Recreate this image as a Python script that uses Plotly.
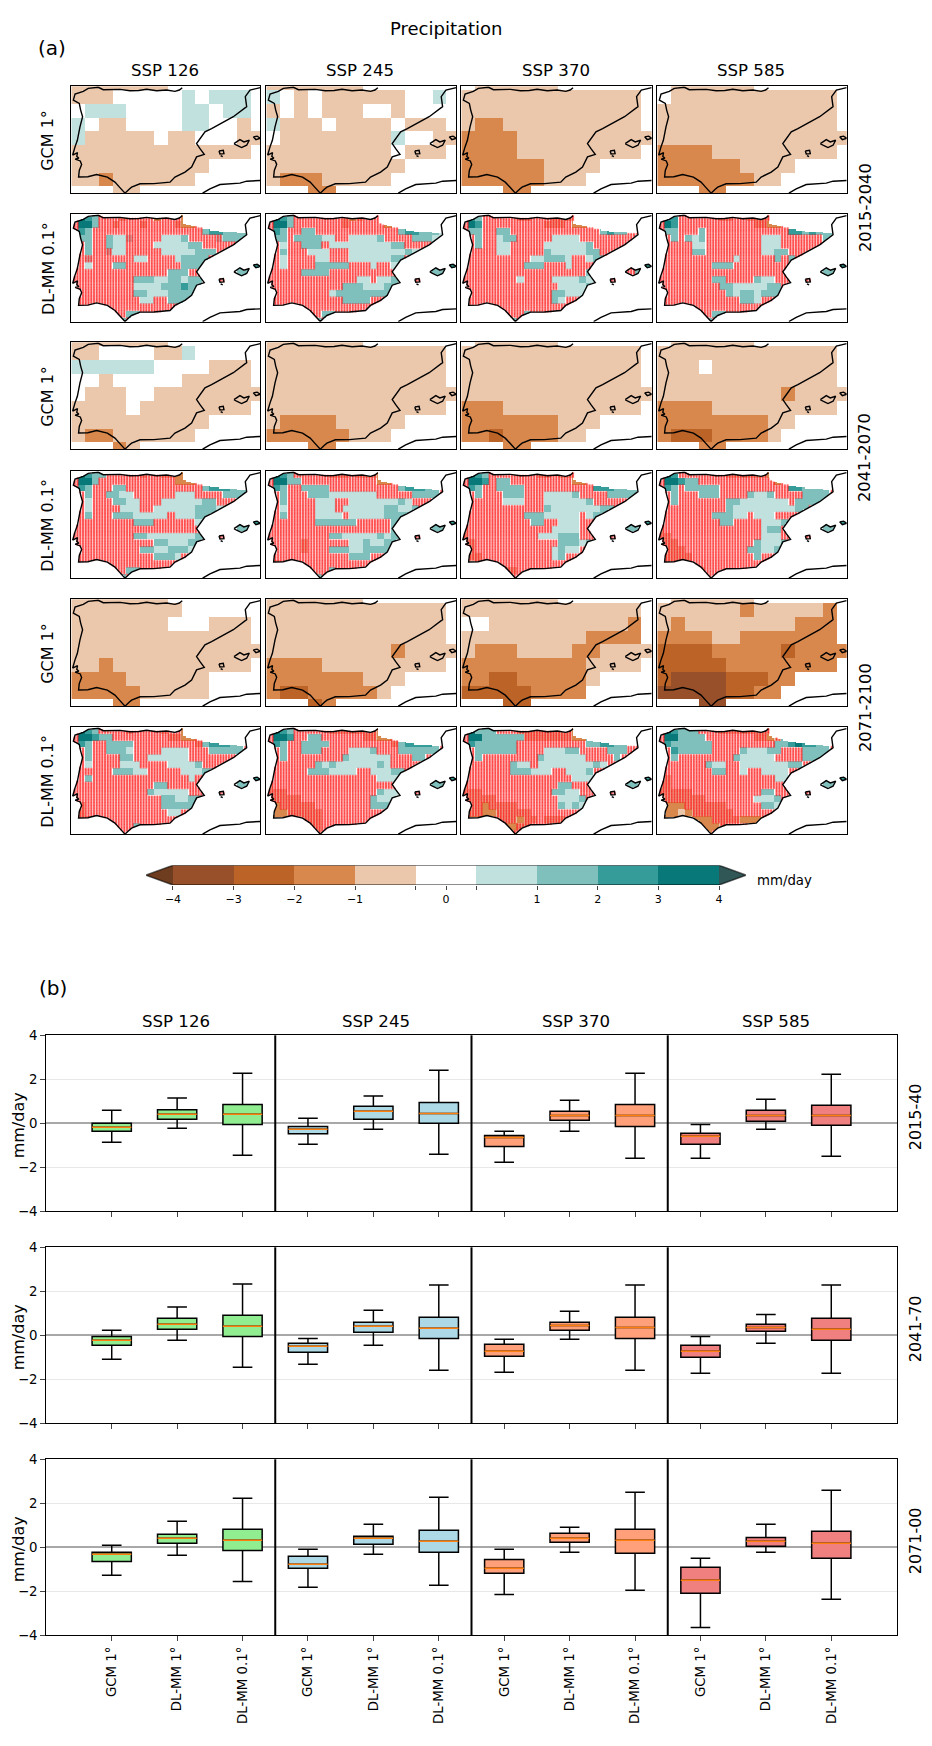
import numpy as np
import plotly.graph_objects as go

W, H = 932, 1746

ssp_labels = ["SSP 126", "SSP 245", "SSP 370", "SSP 585"]
map_row_labels = ["GCM 1°", "DL-MM 0.1°"]
period_labels = ["2015-2040", "2041-2070", "2071-2100"]
box_period_labels = ["2015-40", "2041-70", "2071-00"]
box_ticks = ["GCM 1°", "DL-MM 1°", "DL-MM 0.1°"] * 4

# colour bins, brown to teal
bin_colors = ["#975029", "#bc6428", "#d9884d", "#ebc7ac", "#ffffff",
              "#c1e1df", "#7fbfbc", "#359c99", "#087878"]
class_bin = {"m": 0, "n": 1, "o": 2, "p": 3, "q": 3, "r": 4, "a": 5, "e": 5, "b": 6, "c": 7, "d": 8}
stippled = "rqe"

# coastline, lon / lat
coast_lon = [-1.44, -1.65, -1.97, -2.58, -3.30, -4.03, -4.6, -5.24, -5.96, -7.18, -7.54, -8.27, -8.63, -9.23,
             -9.35, -8.92, -8.82, -8.68, -8.87, -9.06, -9.23, -9.40, -9.40, -9.05, -9.1, -8.95, -9.22, -8.85,
             -8.75, -8.92, -8.97, -8.3, -7.66, -6.88, -6.33, -6.0, -5.60, -5.3, -5.12, -4.51, -3.5, -2.33,
             -1.97, -1.24, -0.76, -0.40, 0.16, -0.15, -0.40, 0.21, 0.69, 2.27, 3.24, 3.14, 3.48, 4.23]
coast_lat = [43.67, 43.50, 43.40, 43.50, 43.45, 43.55, 43.47, 43.45, 43.55, 43.52, 43.70, 43.62, 43.40, 43.21,
             42.77, 42.53, 42.04, 41.56, 40.83, 39.85, 39.37, 38.90, 38.78, 38.95, 38.68, 38.55, 38.48, 38.35,
             38.10, 37.66, 37.18, 37.20, 37.36, 37.18, 36.81, 36.45, 36.01, 36.30, 36.45, 36.69, 36.70, 36.81,
             37.18, 37.54, 37.91, 38.64, 38.83, 39.24, 39.61, 40.46, 40.70, 41.56, 42.29, 43.02, 43.50, 43.67]
# number of coast points up to Cap de Creus, the rest is France
coast_spain = 53
pyrenees_lon = [3.1, 1.5, 0.0, -1.34, -1.44]
pyrenees_lat = [42.42, 42.5, 42.75, 43.09, 43.4]
mallorca_lon = [2.32, 2.75, 3.04, 3.43, 3.24, 2.87, 2.51, 2.32]
mallorca_lat = [39.61, 39.90, 39.73, 39.85, 39.49, 39.32, 39.49, 39.61]
menorca_lon = [3.72, 4.0, 4.23, 3.91, 3.72]
menorca_lat = [40.1, 40.15, 40.0, 39.9, 40.1]
ibiza_lon = [1.23, 1.54, 1.59, 1.3, 1.23]
ibiza_lat = [39.07, 39.12, 38.88, 38.85, 39.07]
formentera_lon = [1.35, 1.5]
formentera_lat = [38.74, 38.66]
africa_lon = [0.04, 0.57, 1.3, 2.75, 3.24, 4.23]
africa_lat = [36.01, 36.32, 36.64, 36.74, 36.88, 36.93]

# GCM 1 deg cells, one string per latitude band, north to south
gcm_lon = list(range(-9, 5))
gcm_lat = [44, 43, 42, 41, 40, 39, 38, 37, 36]

gcm_2015_126 = ["ppppppp.......", "ppp.....a.aaa.", ".aaa....aa.aa.", "a.pp....aa..p.", "appppp.pp...pp",
                "ppppppppppppp.", "pppppppppp....", "ppopppppp.....", "...pp........."]
gcm_2015_245 = ["ppppppp.......", "a.p.pppppp..a.", "p.p.ppp..p....", "appp.pppp.ppp.", ".ppppppppa..pp",
                "ppppppppp.ppp.", "pppppppppp....", "poooppppp.....", "...oo........."]
gcm_2015_370 = [".pppppp.......", "ppppppppppppp.", "ppppppppppppp.", "poopppppppppp.", "oooopppppppppp",
                "ooooppppppppp.", "oooooopppp....", "ooooooppp.....", "...oo........."]
gcm_2015_585 = [".pppppp.......", ".pppppppppppp.", "ppppppppppppp.", "ppppppppppppp.", "pppppppppppppp",
                "ooooppppppppp.", "oooooopppp....", "ooooooopp.....", "...oo........."]

gcm_2041_126 = ["ppppppp.......", "pp....ppa.....", "aaaaaa....ppp.", "..p.....ppppp.", ".ppp..pppppppp",
                "pppp.pppppppp.", "pppppppppp....", "poopppppp.....", "...op........."]
gcm_2041_245 = ["ppppppp.......", "ppppppppppppp.", "ppppppppppppp.", "ppppppppppppp.", "pppppppppppppp",
                "ppppppppppppp.", "pooooppppp....", "ooooooppp.....", "...oo........."]
gcm_2041_370 = [".pppppp.......", "ppppppppppppp.", "ppppppppppppp.", "ppppppppppppp.", "pppppppppppppp",
                "oooppppppppppp"[:13] + ".", "oooooooppp....", "oonoooopp.....", "...oo........."]
gcm_2041_585 = [".pppppp.......", "ppppppppppppp.", "ppp.ppppppppp.", "ppppppppppppp.", "pppppppppopppp",
                "ooooppppppppp.", "oooooooopp....", "onnnoooop.....", "...oo........."]

gcm_2071_126 = ["ppppppp.......", "pppppppp......", "ppppppp...ppp.", "ppppppppppppp.", "pppppppppppppp",
                "ppopppppppppp.", "oooopppppp....", "oooooppppp....", "...oo........."]
gcm_2071_245 = ["ppppppp.......", "ppppppppppppp.", "ppppppppppppp.", "ppppppppppppp.", "pppppppppopppp",
                "ooooppppppppp.", "oooooooppp....", "onnooooop.....", "...no........."]
gcm_2071_370 = ["ppppppp.......", "ppppppppppppp.", "..ppppppppppo.", "pppppppppoooo.", "poooppppoopppp",
                "ooooooooopppp.", "oonnooooop....", "nnnnnoooo.....", "...nn........."]
gcm_2071_585 = [".pppppp.......", "ppppppopppppo.", "poppppppppooo.", "ooooppooooooo.", "nnnnooooonoooo",
                "nnnnnoooooooo.", "nmmmmnnnoo....", "mmmmmnnoo.....", "...mm........."]

# DL-MM 0.1 deg classes read on a 0.5 deg raster; r/q carry the red stippling
dl_2015_126 = [".dcbrrrqrrrrorrro", ".ddbrrqrrrqrrrrqoo", ".cbrrrrrrrrrrrrrrrrbccbbb", ".bbrrbaaerrrraaabrrrrebbbb",
               "..brrbaarrrraaaaabbrrrrr", "..brreaarrrrraaaaabbbrr", "..errrrrraarrrrabbbbrr",
               "..arrrbbrrrrrrrrbbbb......cc", "rrrrrrrrrrrrrrbbbrr.....bbb", "rrrrrrrrrbbbaabbabb...r",
               "rrrrrrrrraaaabbbcbb", ".rrrrrrrrbbaaabbbbb", ".rrrrrrrrraarrbbb", ".rrrrrrrrrrrrrr",
               "......rrbb", ".......b"]
dl_2015_245 = [".dcbrrrrrrrqoqrrrro", ".ddbrrrrrrrqrrrrroo", ".cbrrbbrrrrrrrrrrrrbccbbb", ".bbrbbbbaarraaaabrrrrbbbaa",
               "..arrbbbraaaaaaaaabbrrrr", "..brrraaarrraaaaaaaabaa", "..arrrraarrraaaaaabbrr",
               "..arrrrbbbbbrrrarrabb.....cc", "rrrrrbbbbrrrrrrrrrr.....bbb", "rrrrrrrrrrrrraaraab...r",
               "rrrrrrrrrrrbbbaaabb", ".rrrrrrrrabbbbbbbbb", ".rrrrrrrrrrbbbbrr", ".rrrrrrrrrrrrrr",
               "......rrbb", ".......b"]
dl_2015_370 = [".cbrrrrrqqrrrqqqqro", ".dcrrrrrrrrrqqqrooo", ".bbrrbbrrrrrrrrrrrrrbcbbrr", "..brrabbrrrrraaaarrrrrrrrb",
               "..brraarrrrraaaaaabrrrrr", "..rrraarrrrrbaaaaabbrr", "..rrrrrrrraabbbarrabb",
               "..rrrrrrrbbbrrrarrrr......cc", "rrrrrrrrrrrrrrrrrrb.....rbb", "rrrrrrrrarrrraaaabaa..r",
               "rrrrrrrrrrrrrraaaabb", ".rrrrrrrrrrrrbbaaab", ".rrrrrrrrrrrrbarr", ".rrrrrrrrrrrrrr",
               "......rrrb", ".......b"]
dl_2015_585 = [".ccrrrrrrqqrrqqqqro", ".dcrrrrrrrrrrrqqoo", ".bbrrrbrrrrrrrrrrrrccbcb", "..brbabrrrrrrrraaarrrrrrbb",
               "..rrraarrrrrrrraaarrrrrrr", "..rrrbbrrrrrrrraabbrrrr", "..rrrrrrrrrarrrrrbrb",
               "..rrrrrrbbbrrrrrrrrr......cc", "rrrrrrrrrrrrrrrrrrr.....bbb", "rrrrrrrrbbrrrrbaarrr..r",
               "rrrrrrrrrbbaaaaabbrr", ".rrrrrrrrrbabbabbb", ".rrrrrrrrrrrbbarr", ".rrrrrrrrrrrrrr",
               "......rrbb", ".......b"]

dl_2041_126 = [".dcbbrrrrrqrrqqoooo", ".ddbrrrrrrrrrrrooo", ".cbrrrbbrrrrrrrrrrrbcccbb", "..brrbbaarrrrrraaarrrrbbbb",
               "..arrrbbaarrraaaaaabbrrrr", "..arrrraaarraaaaaabbbaa", "..brrrbbbaaaaaraaabbb",
               "..rrrrrrrbbbrrrrrrarr.....cc", "rrrrrrrrrrrrrrrrrrr.....bbb", "rrrrrrrrrbbaaaaaaab...r",
               "rrrrrrrrrrrrbbaaabbb", ".rrrrrrrrrbbaabbbab", ".rrrrrrrrrrrbbbarr", ".rrrrrrrrrrrrrr",
               "......rrbb", ".......b"]
dl_2041_245 = [".dcbrrrrrqqqrqqqooo", ".ddbbrrrrrrrrrrroo", ".cbrrbbbbrrrrrrrrrrbcccbb", "..brrrbbbaaaaaaarrrrrbbbb",
               "..brrrraaarraaaaaaabarrr", "..arrrraaaraaaaaabbaab", "..brrrraaaaraaaaabbbb",
               "..rrrrrbbbbbbrrrrrbab.....cc", "rrrrrrrrrrrrrrrrrrb.....bbb", "rrrrrrrrrbbaaaaabab...r",
               "rrrrrqrrrrrraabaabbb", ".rrrrqrrrbbbaabbbbb", ".rrrrrrrrrrrbbbrr", ".qrrrrrrrrrrrrr",
               "......rrrb", ".......b"]
dl_2041_370 = [".dcbrrrrrrrqqrqqqoo", ".ddcrbbrrrrrrrrroo", ".cbrrbbbbrrrrrrrrrrcccbbb", "..brrrbbbrrraaaabrrrrbbbbb",
               "..rrrraaarrraaaaaabrrrrr", "..rrrrrrrrrrbaaaaaaabb", "..rrrrrrrbbbaaaaarabb",
               "..rrrrrrrrbbrraaarrrr.....cc", "qrrrrrrrrrrrraaaarr.....bbb", "qrrrrrrrrrraaabbbrr...r",
               "qqrrrrrrrrrrrrbbbab", ".qrrrrrrrrrrrabaar", ".qqrrrrrrrrrrabrr", ".pqqqrrrrrrrrrr",
               "......qqrr", ".......r"]
dl_2041_585 = [".dcrrrrrrrqqqqqqoo", ".ddcbbrrrrrrrrrrro", ".cbrbbbbbrrrrrrrrrrccbbbb", "..brrrbbbrrrrbaabrrrrbbbb",
               "..brrrrrrrbbaaaaaaarbbbb", "..rrrrrrrrbaaaaaaaaabb", "..rrrrrrbbbaaraaarrrr",
               "..rrrrrrrbbrrrraaabr......cc", "qrrrrrrrrrrrrrrabbr.....bbb", "qqrrrrrrrrrrrrraaarr..r",
               "qqqrrrrrrrrrrrbaaabb", ".qqqrrrrrrrrrbbaabb", ".qqqqrrrrrrrrrbrr", ".qqqqrrrrrrrrrr",
               "......qrrr", ".......r"]

dl_2071_126 = [".dcbrrrrqrrrrqrro", ".ddcbbrrrrrrrrqqoo", ".cbrrbbbbrrrrrrrrrqbcccbb", "..brrbbbarrrraaaarrrbbbbb",
               "..brrrrbbrraaaaaarrrrr", "..arrrraaarrrraaaabrrr", "..rrrrbbbaarrrrraaabb",
               "..brrrrrrrrrrrrrrarr......cc", "rrrrrrrrrrrrbbrrrrr.....bbb", "rrrrrrrrrrrbaaaaarr...r",
               "qrrrrrrrrrrrrbbaabbb", ".qrrrrrrrrrrrbbbbbb", ".qrrrrrrrrrrrraarr", ".qqrrrrrrrrrrrr",
               "......rrrb", ".......r"]
dl_2071_245 = [".dcbrrrrrqqqqqqqoo", ".ddcrrbbrrrrrrqqoo", ".cbrrbbbbrrrrrrrrrqbccccb", "..brrbbbrrrraaabrrrbbbbbb",
               "..brrrrrrrrbaaaaaarrrbb", "..rrrrrbabaaaaaabarrr", "..rrrrbbbaaaarraaabb",
               "..rrrrrrrrrrrrrraaar......cc", "qrrrrrrrrrrrrrrrrrr.....bbb", "qqqrrrrrrrrrrrrrbaar..r",
               "qqqqqrrrrrrrrrrbaaabr", ".oqqqqqrrrrrrrrbbbb", ".ooqqqqqrrrrrrrrr", ".ooopqqqrrrrrrr",
               "......qqrr", ".......q"]
dl_2071_370 = [".dbbbrrrqqqqqqqqooo", ".ddbbbbbbqqqqqqqoo", ".cbbbbbbrrrrrrrrrrbbccb", "..bbbbbbrrrraaabbrrrrbbb",
               "..brrrrrrrrbaaaaaarrrrb", "..rrrrrbaaraaaaaaaaba", "..rrrrrbbbaaarraaab",
               "..rrrrrrrrrrrrrraaarr.....cc", "qrrrrrrrrrrrrrbbrrr.....bbb", "qqqrrrrrrrrrrbbaarr...r",
               "qqqqqrrrrrrrrraaabrr", ".qqoqqqqrrrrrrbabar", ".qqooqqqqqrrrrrrr", ".oooqqqqoqqrqqq",
               "......ooqq", ".......q"]
dl_2071_585 = [".dcbbbrrrqqqqqqqqoo", ".ddbbbbrrrrrrrqqoq", ".cbbbbbbrrrrrrrrrbbcdcc", "..cbbbbbrrrrbaaabbrrrbbbb",
               "..brrrrrrrrbaaaaarrrrbbbb", "..rrrrrbaarraaaaaaabb", "..rrrrrrbbrrarraaaarr",
               "..rrrrrrrrrrrrrrraar......cc", "qqrrrrrrrrrrrrrrrrr.....bbb", "qqqqqrrrrrrrrrrbbrr...r",
               "oqqqqqqrrrrrrraaabrr", ".oooqqqqqqrrrrrbbar", ".oopoqqqqqqrrrrrr", ".ooppoooqqqqooo",
               "......oooq", ".......o"]

gcm_panels = [[gcm_2015_126, gcm_2015_245, gcm_2015_370, gcm_2015_585],
              [gcm_2041_126, gcm_2041_245, gcm_2041_370, gcm_2041_585],
              [gcm_2071_126, gcm_2071_245, gcm_2071_370, gcm_2071_585]]
dl_panels = [[dl_2015_126, dl_2015_245, dl_2015_370, dl_2015_585],
             [dl_2041_126, dl_2041_245, dl_2041_370, dl_2041_585],
             [dl_2071_126, dl_2071_245, dl_2071_370, dl_2071_585]]

# boxplot stats, 4 scenarios x 3 products in a row
box_colors = ["#90ee90", "#add8e6", "#ffa07a", "#f08080"]
box_x = list(range(1, 13))
hi_2015 = [0.59, 1.15, 2.27, 0.23, 1.24, 2.41, -0.36, 1.05, 2.27, -0.05, 1.09, 2.23]
q3_2015 = [0.0, 0.62, 0.86, -0.14, 0.77, 0.95, -0.55, 0.55, 0.86, -0.45, 0.59, 0.82]
med_2015 = [-0.18, 0.41, 0.41, -0.27, 0.55, 0.45, -0.64, 0.35, 0.36, -0.59, 0.36, 0.36]
q1_2015 = [-0.36, 0.18, -0.05, -0.47, 0.18, 0.0, -1.05, 0.14, -0.14, -0.95, 0.09, -0.09]
lo_2015 = [-0.86, -0.23, -1.45, -0.95, -0.27, -1.41, -1.77, -0.36, -1.59, -1.59, -0.27, -1.5]

hi_2041 = [0.23, 1.29, 2.33, -0.14, 1.14, 2.29, -0.18, 1.09, 2.29, -0.05, 0.95, 2.29]
q3_2041 = [-0.05, 0.77, 0.91, -0.36, 0.59, 0.82, -0.41, 0.59, 0.82, -0.45, 0.5, 0.77]
med_2041 = [-0.23, 0.5, 0.41, -0.5, 0.41, 0.32, -0.73, 0.45, 0.36, -0.73, 0.36, 0.27]
q1_2041 = [-0.45, 0.27, -0.05, -0.77, 0.14, -0.14, -0.95, 0.23, -0.14, -1.0, 0.18, -0.23]
lo_2041 = [-1.09, -0.23, -1.45, -1.32, -0.45, -1.59, -1.68, -0.18, -1.59, -1.73, -0.36, -1.73]

hi_2071 = [0.09, 1.18, 2.23, -0.09, 1.05, 2.27, -0.09, 0.91, 2.5, -0.5, 1.05, 2.59]
q3_2071 = [-0.23, 0.59, 0.82, -0.41, 0.5, 0.77, -0.55, 0.64, 0.82, -0.91, 0.45, 0.73]
med_2071 = [-0.32, 0.41, 0.32, -0.77, 0.41, 0.27, -0.95, 0.41, 0.32, -1.5, 0.27, 0.18]
q1_2071 = [-0.64, 0.18, -0.14, -0.95, 0.14, -0.23, -1.18, 0.23, -0.27, -2.09, 0.05, -0.5]
lo_2071 = [-1.27, -0.36, -1.55, -1.82, -0.32, -1.73, -2.14, -0.23, -1.95, -3.64, -0.23, -2.36]

box_rows = [(hi_2015, q3_2015, med_2015, q1_2015, lo_2015),
            (hi_2041, q3_2041, med_2041, q1_2041, lo_2041),
            (hi_2071, q3_2071, med_2071, q1_2071, lo_2071)]
separators = [3.5, 6.5, 9.5]

# colorbar
cbar_tick_pos = [0, 1, 2, 3, 4, 4.5, 5, 6, 7, 8, 9]
cbar_tick_text = ["\u22124", "\u22123", "\u22122", "\u22121", "", "0", "", "1", "2", "3", "4"]
cbar_left_color = "#6e3c1e"
cbar_right_color = "#315656"

# layout in pixels
map_cols = [(71.3, 260.3), (266.3, 456.3), (461.3, 651.7), (657.3, 846.7)]
map_rows = [(86.3, 193.3), (214.3, 321.7), (342.3, 449.3), (471.3, 578.3), (599.3, 706.3), (727.3, 834.3)]
box_rows_px = [(1035.3, 1211.3), (1247.3, 1423.3), (1459.3, 1635.3)]
lon_range = [-9.5, 4.23]
lat_range = [36.0, 43.77]


def xdom(a, b):
    return [a / W, b / W]


def ydom(top, bottom):
    return [1 - bottom / H, 1 - top / H]


def in_poly(px, py, lons, lats):
    inside = np.zeros(px.shape, bool)
    n = len(lons)
    for i in range(n):
        x1, y1, x2, y2 = lons[i], lats[i], lons[(i + 1) % n], lats[(i + 1) % n]
        if y1 == y2:
            continue
        cond = ((y1 > py) != (y2 > py)) & (px < (x2 - x1) * (py - y1) / (y2 - y1) + x1)
        inside ^= cond
    return inside


fine_lon = np.round(np.arange(-9.45, 4.3, 0.1), 2)
fine_lat = np.round(np.arange(43.75, 35.95, -0.1), 2)
LON, LAT = np.meshgrid(fine_lon, fine_lat)
land = in_poly(LON, LAT, coast_lon[:coast_spain] + pyrenees_lon, coast_lat[:coast_spain] + pyrenees_lat)
land |= in_poly(LON, LAT, mallorca_lon, mallorca_lat)
land |= in_poly(LON, LAT, menorca_lon, menorca_lat)
land |= in_poly(LON, LAT, ibiza_lon, ibiza_lat)

colorscale = []
for i, c in enumerate(bin_colors):
    colorscale += [[i / 9, c], [(i + 1) / 9, c]]


def gcm_z(rows):
    z = np.full((len(gcm_lat), len(gcm_lon)), np.nan)
    for j, row in enumerate(rows):
        for i, ch in enumerate(row.ljust(len(gcm_lon), ".")[:len(gcm_lon)]):
            if ch in class_bin:
                z[j, i] = class_bin[ch] + 0.5
    return z


def dl_fields(rows):
    z = np.full(LON.shape, np.nan)
    dots_x, dots_y = [], []
    for j in range(len(fine_lat)):
        r = min(int((43.77 - fine_lat[j]) / 0.5), len(rows) - 1)
        for i in range(len(fine_lon)):
            if not land[j, i]:
                continue
            c = int((fine_lon[i] + 9.5) / 0.5)
            ch = rows[r][c] if c < len(rows[r]) else "."
            if ch == "." and r + 1 < len(rows) and c < len(rows[r + 1]):
                ch = rows[r + 1][c]
            if ch == ".":
                ch = "r"
            z[j, i] = class_bin[ch] + 0.5
            if ch in stippled and i % 2 == 0:
                dots_x.append(fine_lon[i])
                dots_y.append(fine_lat[j])
    return z, dots_x, dots_y


fig = go.Figure()
layout = {}
annotations = []
shapes = []

coast_x = coast_lon + [None] + mallorca_lon + [None] + menorca_lon + [None] + ibiza_lon + [None] + formentera_lon + [None] + africa_lon
coast_y = coast_lat + [None] + mallorca_lat + [None] + menorca_lat + [None] + ibiza_lat + [None] + formentera_lat + [None] + africa_lat


def text(x, y, s, size, angle=0):
    annotations.append(dict(x=x / W, y=1 - y / H, xref="paper", yref="paper", text=s, showarrow=False,
                            font=dict(size=size), textangle=angle, xanchor="center", yanchor="middle"))


# maps
ax = 0
for row in range(6):
    for col in range(4):
        ax += 1
        xa, ya = f"x{ax}", f"y{ax}"
        layout[f"xaxis{ax}"] = dict(domain=xdom(*map_cols[col]), range=lon_range, anchor=ya, showticklabels=False,
                                    ticks="", showgrid=False, zeroline=False, showline=True, mirror=True,
                                    linecolor="black", linewidth=1.2)
        layout[f"yaxis{ax}"] = dict(domain=ydom(*map_rows[row]), range=lat_range, anchor=xa, showticklabels=False,
                                    ticks="", showgrid=False, zeroline=False, showline=True, mirror=True,
                                    linecolor="black", linewidth=1.2)
        if row % 2 == 0:
            fig.add_trace(go.Heatmap(x=gcm_lon, y=gcm_lat, z=gcm_z(gcm_panels[row // 2][col]), colorscale=colorscale,
                                     zmin=0, zmax=9, showscale=False, xaxis=xa, yaxis=ya, hoverinfo="skip"))
        else:
            z, dx, dy = dl_fields(dl_panels[row // 2][col])
            fig.add_trace(go.Heatmap(x=fine_lon, y=fine_lat, z=z, colorscale=colorscale, zmin=0, zmax=9,
                                     showscale=False, xaxis=xa, yaxis=ya, hoverinfo="skip"))
            fig.add_trace(go.Scatter(x=dx, y=dy, mode="markers", xaxis=xa, yaxis=ya, hoverinfo="skip",
                                     marker=dict(size=2.1, color="rgba(255,0,0,0.55)",
                                                 line=dict(width=1.2, color="rgba(255,40,40,0.1)"))))
        fig.add_trace(go.Scatter(x=coast_x, y=coast_y, mode="lines", xaxis=xa, yaxis=ya, hoverinfo="skip",
                                 line=dict(color="black", width=1.4)))

# colorbar
ax += 1
xa, ya = f"x{ax}", f"y{ax}"
tip = 27 / 60.7
layout[f"xaxis{ax}"] = dict(domain=xdom(146, 746), range=[-tip, 9 + tip], anchor=ya, tickmode="array",
                            tickvals=cbar_tick_pos, ticktext=cbar_tick_text, ticks="outside", ticklen=3.5, tickwidth=0.8,
                            tickfont=dict(size=11), showgrid=False, zeroline=False, showline=False)
layout[f"yaxis{ax}"] = dict(domain=ydom(865.3, 885), range=[0, 1], anchor=xa, visible=False)
fig.add_trace(go.Heatmap(x=[i + 0.5 for i in range(9)], y=[0.5], z=[[i + 0.5 for i in range(9)]], colorscale=colorscale,
                         zmin=0, zmax=9, showscale=False, xaxis=xa, yaxis=ya, hoverinfo="skip"))
fig.add_trace(go.Scatter(x=[-tip, 0, 0, -tip], y=[0.5, 1, 0, 0.5], fill="toself", fillcolor=cbar_left_color, mode="lines",
                         line=dict(width=0), xaxis=xa, yaxis=ya, hoverinfo="skip"))
fig.add_trace(go.Scatter(x=[9 + tip, 9, 9, 9 + tip], y=[0.5, 1, 0, 0.5], fill="toself", fillcolor=cbar_right_color, mode="lines",
                         line=dict(width=0), xaxis=xa, yaxis=ya, hoverinfo="skip"))
fig.add_trace(go.Scatter(x=[-tip, 0, 9, 9 + tip, 9, 0, -tip], y=[0.5, 1, 1, 0.5, 0, 0, 0.5], mode="lines",
                         line=dict(color="rgba(0,0,0,0.6)", width=1.5), xaxis=xa, yaxis=ya, hoverinfo="skip"))

# boxplots
for row, stats in enumerate(box_rows):
    ax += 1
    xa, ya = f"x{ax}", f"y{ax}"
    hi, q3, med, q1, lo = stats
    layout[f"xaxis{ax}"] = dict(domain=xdom(46.3, 896.7), range=[0, 13], anchor=ya, tickmode="array", tickvals=box_x,
                                ticktext=box_ticks if row == 2 else [""] * 12, tickangle=-90, ticks="outside", ticklen=5,
                                tickwidth=1, tickfont=dict(size=13.3), showgrid=False, zeroline=False, showline=True,
                                mirror=True, linecolor="black", linewidth=1.2)
    layout[f"yaxis{ax}"] = dict(domain=ydom(*box_rows_px[row]), range=[-4, 4], anchor=xa, tickmode="array",
                                tickvals=[-4, -2, 0, 2, 4], ticks="outside", ticklen=5, tickwidth=1,
                                tickfont=dict(size=13.3), showgrid=True, gridcolor="#e8e8e8", gridwidth=1, zeroline=True,
                                zerolinecolor="#a8a8a8", zerolinewidth=1.5, showline=True, mirror=True,
                                linecolor="black", linewidth=1.2)
    for g in range(4):
        idx = range(g * 3, g * 3 + 3)
        fig.add_trace(go.Box(x=[box_x[i] for i in idx], q1=[q1[i] for i in idx], median=[med[i] for i in idx],
                             q3=[q3[i] for i in idx], lowerfence=[lo[i] for i in idx], upperfence=[hi[i] for i in idx],
                             width=0.6, whiskerwidth=0.5, fillcolor=box_colors[g], boxpoints=False,
                             line=dict(color="black", width=1.5), xaxis=xa, yaxis=ya, hoverinfo="skip"))
    mx, my = [], []
    for i in range(12):
        mx += [box_x[i] - 0.3, box_x[i] + 0.3, None]
        my += [med[i], med[i], None]
    fig.add_trace(go.Scatter(x=mx, y=my, mode="lines", line=dict(color="#ff7f0e", width=1.5), xaxis=xa, yaxis=ya,
                             hoverinfo="skip"))
    for s in separators:
        shapes.append(dict(type="line", xref=xa, yref=f"{ya} domain", x0=s, x1=s, y0=0, y1=1,
                           line=dict(color="black", width=2)))

# texts
text(446.2, 28.7, "Precipitation", 18)
text(52, 47.7, "(a)", 20)
text(53, 987.7, "(b)", 20)
for col, (a, b) in enumerate(map_cols):
    text(165 + 195.3 * col, 71, ssp_labels[col], 16.6)
for row, (a, b) in enumerate(map_rows):
    text(48, (a + b) / 2 + 1, map_row_labels[row % 2], 16, -90)
for i, y in enumerate([208, 458, 708]):
    text(865, y, period_labels[i], 16.3, -90)
for i, x in enumerate([176.3, 376, 576, 776]):
    text(x, 1021, ssp_labels[i], 16.6)
for row, (a, b) in enumerate(box_rows_px):
    text(18, (a + b) / 2 + 2, "mm/day", 16, -90)
    text(915, (a + b) / 2 - 6, box_period_labels[row], 16, -90)
text(784, 880, "mm/day", 13.3)

fig.update_layout(width=W, height=H, margin=dict(l=0, r=0, t=0, b=0, autoexpand=False), autosize=False, showlegend=False,
                  plot_bgcolor="white", paper_bgcolor="white", font=dict(family="DejaVu Sans", color="black"),
                  annotations=annotations, shapes=shapes, **layout)
fig.write_html("out.html", post_script="document.body.style.margin='0';", config={"displayModeBar": False})
